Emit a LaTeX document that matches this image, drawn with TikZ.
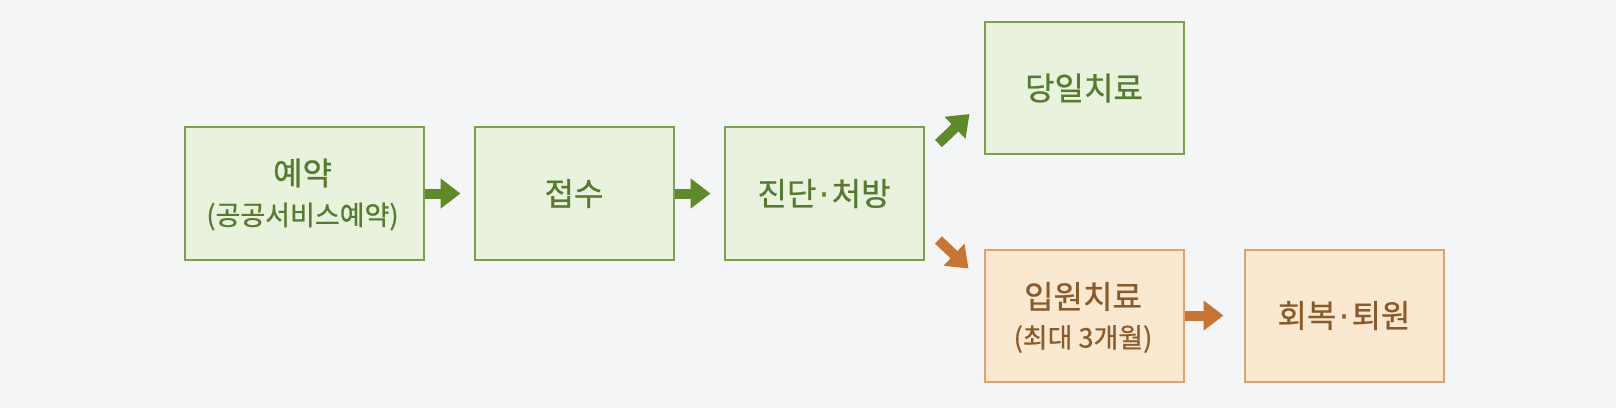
\documentclass[tikz,border=0pt]{standalone}
\usepackage{fontspec}
\setmainfont{Noto Sans CJK KR}[FakeBold=0.7]
\newfontfamily\dotfont{DejaVu Sans}[FakeBold=0.7]
\usetikzlibrary{arrows.meta}
\definecolor{bg}{HTML}{F4F5F7}
\definecolor{gfill}{HTML}{E8F2DC}
\definecolor{gline}{HTML}{7DA04A}
\definecolor{gtext}{HTML}{557A30}
\definecolor{garrow}{HTML}{5E8A2A}
\definecolor{ofill}{HTML}{FBE8D0}
\definecolor{oline}{HTML}{E0A070}
\definecolor{otext}{HTML}{8A5A2A}
\definecolor{oarrow}{HTML}{C87432}
\newcommand{\mdot}{{\dotfont\hspace{0.08em}·\hspace{0.08em}}}
\tikzset{
  gbox/.style={draw=gline, fill=gfill, line width=2pt, text=gtext, minimum width=199pt, minimum height=132pt, inner sep=0pt, anchor=north west, align=center, font=\fontsize{32pt}{44pt}\selectfont},
  obox/.style={gbox, draw=oline, fill=ofill, text=otext},
  arr/.style={line width=10pt, -{Triangle[width=29pt,length=20pt]}},
  garr/.style={arr, draw=garrow},
  oarr/.style={arr, draw=oarrow},
  mainlab/.style={font=\fontsize{32pt}{32pt}\selectfont},
  sub/.style={font=\fontsize{27pt}{27pt}\selectfont}
}
\begin{document}
\begin{tikzpicture}[x=1pt,y=-1pt]
\fill[bg] (0,0) rectangle (1616,408);
\useasboundingbox (0,0) rectangle (1616,408);
\node[gbox, minimum width=239pt, minimum height=133pt] (b1) at (183.5,126) {};
\node[text=gtext, mainlab] (t1) at (302.5,173) {예약};
\node[text=gtext, sub] (t1b) at (302.5,216.5) {(공공서비스예약)};
\node[gbox, minimum height=133pt] (b2) at (473.5,126) {접수};
\node[gbox, minimum height=133pt] (b3) at (723.5,126) {진단\mdot 처방};
\node[gbox, minimum height=132.5pt] (b4) at (983.5,20.8) {당일치료};
\node[obox] (b5) at (983.5,248.5) {};
\node[text=otext, mainlab] (t5) at (1083,296.5) {입원치료};
\node[text=otext, sub] (t5b) at (1083,339) {(최대 3개월)};
\node[obox] (b6) at (1243.5,248.5) {회복\mdot 퇴원};
\draw[garr, shorten >=13pt] (b1.east) -- (b2.west);
\draw[garr, shorten >=13pt] (b2.east) -- (b3.west);
\coordinate (u1) at (938.5,143.5);
\coordinate (u2) at (969.5,114);
\coordinate (d1) at (938.5,240);
\coordinate (d2) at (968.5,268.5);
\draw[garr] (u1) -- (u2);
\draw[oarr] (d1) -- (d2);
\draw[oarr, shorten >=20pt] (b5.east) -- (b6.west);
\end{tikzpicture}
\end{document}
